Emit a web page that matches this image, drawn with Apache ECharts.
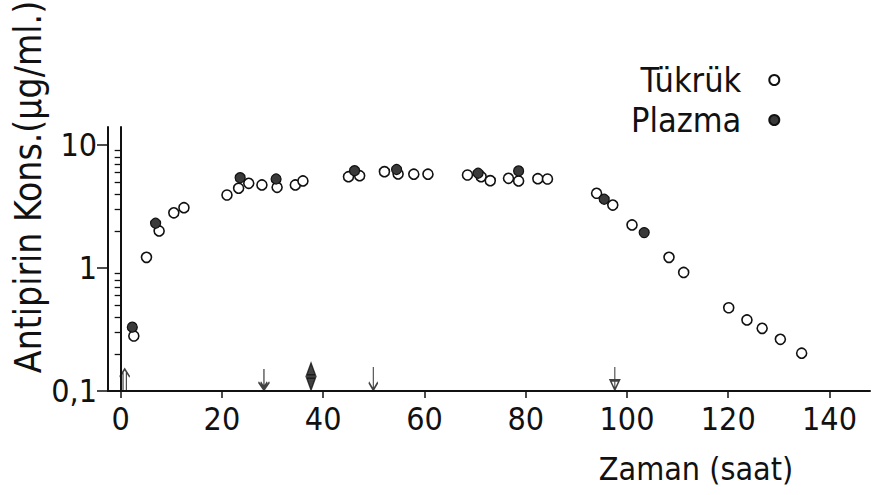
<!DOCTYPE html>
<html>
<head>
<meta charset="utf-8">
<script src="https://cdn.jsdelivr.net/npm/echarts@6/dist/echarts.min.js"></script>
<style>
  html, body { margin: 0; padding: 0; background: #fff; }
  #chart { width: 873px; height: 495px; }
</style>
</head>
<body>
<div id="chart"></div>
<script>
// eksen değerleri
const xTicks = [0, 20, 40, 60, 80, 100, 120, 140];
const yMajor = [0.1, 1, 10];
const yMinor = [0.2, 0.3, 0.4, 0.5, 0.6, 0.7, 0.8, 0.9, 2, 3, 4, 5, 6, 7, 8, 9];

// Tükrük (açık daire)
const tukrukTime = [2.6, 5.1, 7.6, 10.5, 12.5, 21.0, 23.3, 25.3, 27.9, 30.9, 34.5, 36.0,
  45.0, 47.2, 52.1, 54.8, 57.9, 60.7, 68.5, 71.2, 73.0, 76.6, 78.6, 82.4, 84.3,
  94.0, 97.2, 101.0, 108.3, 111.2, 120.1, 123.7, 126.7, 130.3, 134.5];
const tukrukConc = [0.28, 1.22, 2.0, 2.81, 3.09, 3.92, 4.45, 4.88, 4.73, 4.53, 4.73, 5.10,
  5.52, 5.63, 6.07, 5.81, 5.79, 5.79, 5.70, 5.52, 5.13, 5.36, 5.10, 5.32, 5.29,
  4.05, 3.25, 2.24, 1.22, 0.92, 0.475, 0.378, 0.323, 0.263, 0.203];

// Plazma (dolu daire)
const plazmaTime = [2.3, 6.9, 23.6, 30.7, 46.2, 54.5, 70.6, 78.6, 95.5, 103.4];
const plazmaConc = [0.33, 2.31, 5.42, 5.29, 6.18, 6.32, 5.89, 6.15, 3.62, 1.94];

// oklar (zaman ekseni üzerinde)
const arrowTimes = [0.8, 28.3, 37.6, 49.9, 97.6];
const arrowKinds = ['up', 'down', 'both', 'thin', 'tri'];

const numFont = "'Liberation Sans Narrow', 'DejaVu Sans Condensed', sans-serif";
const txtFont = "'DejaVu Sans Condensed', 'DejaVu Sans', sans-serif";
const ink = '#111';

const arrowShapes = {
  up:   { path: 'path://M4,24 L4,3 M7,24 L7,3 M1,9 L5.5,0 L10,9', size: [10, 21], fill: 'none' },
  down: { path: 'path://M5,0 L5,24 M0,15 L5,24 L10,15 M2,15 L5,21 L8,15', size: [11, 21], fill: 'none' },
  both: { path: 'path://M5,0 L10,11 L0,11 Z M5,11 L5,13 M0,13 L10,13 L5,24 Z', size: [9, 27], fill: ink },
  thin: { path: 'path://M5,0 L5,24 M0,16 L5,24 L10,16', size: [9, 23], fill: 'none' },
  tri:  { path: 'path://M5,0 L5,24 M1,14 L9,14 L5,24 Z', size: [9, 23], fill: 'none' }
};

const chart = echarts.init(document.getElementById('chart'), null, { renderer: 'svg' });

chart.setOption({
  backgroundColor: '#fff',
  animation: false,
  grid: { left: 108, right: 3, top: 127, bottom: 104, outerBoundsMode: 'none', containLabel: false },
  legend: {
    data: ['Tükrük', 'Plazma'],
    orient: 'vertical',
    align: 'right',
    left: 626,
    top: 58,
    itemGap: 6,
    itemWidth: 56,
    itemHeight: 10,
    textStyle: { fontFamily: txtFont, fontSize: 34, color: ink }
  },
  xAxis: {
    type: 'value',
    min: -2.5,
    max: 148,
    splitLine: { show: false },
    axisLine: { lineStyle: { color: ink, width: 2 } },
    axisTick: { customValues: xTicks, length: 7, lineStyle: { color: ink, width: 1.5 } },
    axisLabel: { customValues: xTicks, margin: 12, fontFamily: numFont, fontSize: 32, color: ink }
  },
  yAxis: [
    {
      type: 'log',
      position: 'left',
      logBase: 10,
      min: 0.1,
      max: 14,
      splitLine: { show: false },
      axisLine: { onZero: true, lineStyle: { color: ink, width: 2 } },
      axisTick: { customValues: yMinor, length: 6, lineStyle: { color: ink, width: 1.3 } },
      axisLabel: { show: false }
    },
    {
      type: 'log',
      position: 'left',
      logBase: 10,
      min: 0.1,
      max: 14,
      splitLine: { show: false },
      axisLine: { onZero: true, lineStyle: { color: ink, width: 2 } },
      axisTick: { customValues: yMajor, length: 11, lineStyle: { color: ink, width: 1.5 } },
      axisLabel: {
        customValues: yMajor,
        margin: 11,
        padding: [0, 0, 18, 0],
        fontFamily: numFont,
        fontSize: 32,
        color: ink,
        formatter: v => String(v).replace('.', ',')
      }
    }
  ],
  graphic: [
    {
      type: 'text',
      x: 28, y: 187, rotation: Math.PI / 2,
      style: {
        text: 'Antipirin Kons.(µg/ml.)',
        fontFamily: txtFont, fontSize: 37, fill: ink,
        align: 'center', verticalAlign: 'middle'
      }
    },
    {
      type: 'text',
      x: 696, y: 469,
      style: {
        text: 'Zaman (saat)',
        fontFamily: txtFont, fontSize: 32, fill: ink,
        align: 'center', verticalAlign: 'middle'
      }
    }
  ],
  series: [
    {
      name: 'Tükrük',
      type: 'scatter',
      symbol: 'circle',
      symbolSize: 10,
      itemStyle: { color: '#fff', borderColor: ink, borderWidth: 1.6, opacity: 1 },
      data: tukrukTime.map((t, i) => [t, tukrukConc[i]])
    },
    {
      name: 'Plazma',
      type: 'scatter',
      symbol: 'circle',
      symbolSize: 10,
      itemStyle: { color: '#3a3a3a', borderColor: ink, borderWidth: 1.2, opacity: 1 },
      data: plazmaTime.map((t, i) => [t, plazmaConc[i]])
    },
    {
      name: 'oklar',
      type: 'scatter',
      silent: true,
      clip: false,
      z: 5,
      data: arrowTimes.map((t, i) => {
        const a = arrowShapes[arrowKinds[i]];
        return {
          value: [t, 0.1],
          symbol: a.path,
          symbolSize: a.size,
          symbolOffset: [0, -a.size[1] / 2 - 1],
          itemStyle: { color: a.fill, borderColor: ink, borderWidth: 1.7 }
        };
      })
    }
  ]
});
</script>
</body>
</html>
